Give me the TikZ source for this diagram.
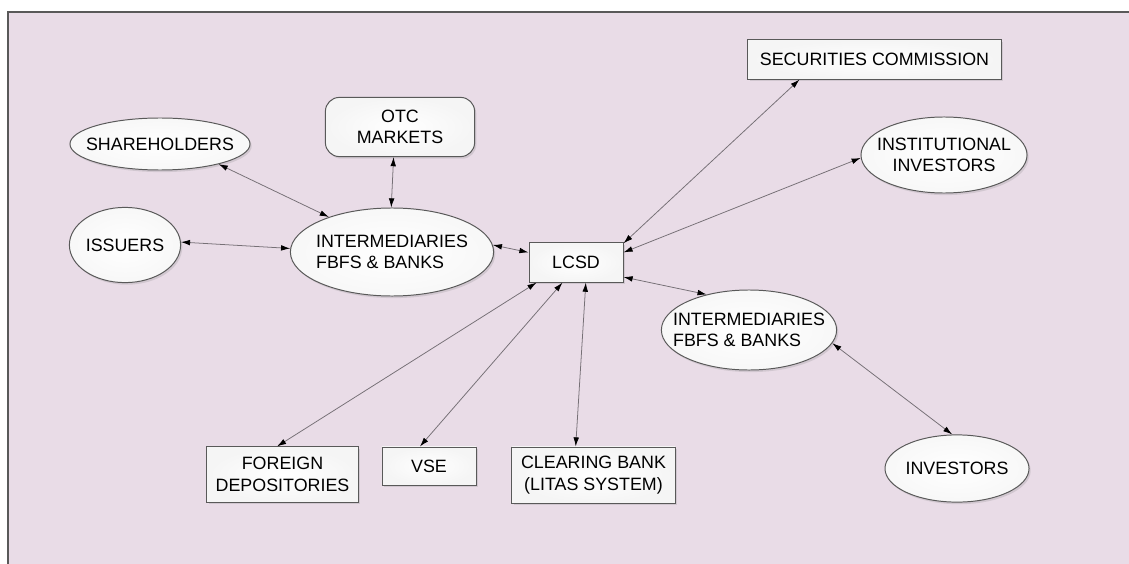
\documentclass[tikz,border=0pt]{standalone}
\usepackage{fontspec}
\setmainfont{Liberation Sans}
\usepackage{xcolor}
\usepackage{tikz}
\usetikzlibrary{shapes.geometric, arrows.meta, positioning, shadows}
\definecolor{panelpink}{HTML}{E9DCE7}
\definecolor{edgegray}{HTML}{767076}

\begin{document}
\begin{tikzpicture}[
    x=0.025cm, y=-0.025cm,
    font=\fontsize{12.7}{15.4}\selectfont,
    party/.style={ellipse, draw=black!65, line width=0.7pt, inner xsep=-10pt, inner ysep=0pt,
        inner color=white, outer color=gray!6,
        drop shadow={shadow xshift=1.2pt, shadow yshift=-1.5pt, opacity=0.22}},
    unit/.style={rectangle, draw=black!65, line width=0.7pt, inner sep=2pt, align=center,
        inner color=white, outer color=gray!8,
        drop shadow={shadow xshift=1.2pt, shadow yshift=-1.5pt, opacity=0.22}},
    link/.style={draw=edgegray, line width=0.55pt,
        {Latex[black,length=6.5pt,width=4pt]}-{Latex[black,length=6.5pt,width=4pt]}}
]
\useasboundingbox (0,0) rectangle (1129,564);

% panel
\fill[panelpink] (8,12) rectangle (1129,564);
\draw[black!65, line width=0.9pt] (8,564) -- (8,12) -- (1129,12);

% Left side
\node[party, minimum width=4.5cm, minimum height=1.3cm] (shareholders) at (160,144) {SHAREHOLDERS};
\node[party, minimum width=2.78cm, minimum height=1.88cm] (issuers) at (125,245) {ISSUERS};
\node[unit, rounded corners=10pt, minimum width=3.73cm, minimum height=1.48cm] (otc) at (400,127) {OTC\\MARKETS};
\node[party, align=left, minimum width=5.08cm, minimum height=2.2cm] (interm) at (392,252) {INTERMEDIARIES\\FBFS \& BANKS};

% Centre
\node[unit, minimum width=2.35cm, minimum height=0.98cm] (lcsd) at (576,262.5) {LCSD};

% Right side
\node[unit, minimum width=6.33cm, minimum height=0.98cm] (seccom) at (874.5,59.5) {SECURITIES COMMISSION};
\node[party, align=center, minimum width=4.15cm, minimum height=1.9cm] (inst) at (944,155) {INSTITUTIONAL\\INVESTORS};
\node[party, align=left, minimum width=4.38cm, minimum height=2cm] (intermr) at (749,330) {INTERMEDIARIES\\FBFS \& BANKS};
\node[party, minimum width=3.6cm, minimum height=1.68cm] (investors) at (957,468.5) {INVESTORS};

% Bottom row
\node[unit, minimum width=3.78cm, minimum height=1.38cm] (foreign) at (282.5,474.5) {FOREIGN\\DEPOSITORIES};
\node[unit, minimum width=2.35cm, minimum height=0.95cm] (vse) at (429,466) {VSE};
\node[unit, minimum width=4.08cm, minimum height=1.4cm] (clearing) at (593.5,475) {CLEARING BANK\\(LITAS SYSTEM)};

% Links
\draw[link] (shareholders.-19) -- (interm.151);
\draw[link] (issuers.3) -- (interm.178);
\draw[link] (otc.258) -- (interm.91);
\draw[link] (interm.4) -- (lcsd.168);
\draw[link] (lcsd.22) -- (seccom.195);
\draw[link] (lcsd.12) -- (inst.182);
\draw[link] (lcsd.-17) -- (intermr.140);
\draw[link] (intermr.-9) -- (investors.98);
\draw[link] (lcsd.207) -- (foreign.101);
\draw[link] (lcsd.236) -- (vse.115);
\draw[link] (lcsd.296) -- (clearing.122);

\end{tikzpicture}
\end{document}
